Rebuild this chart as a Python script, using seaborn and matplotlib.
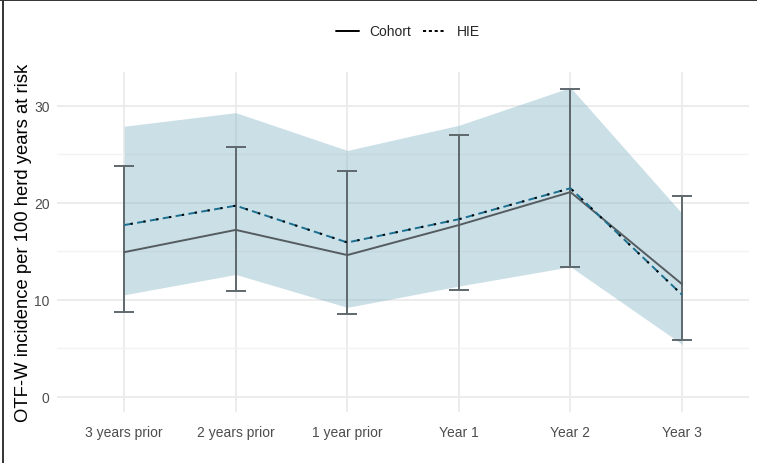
import pandas as pd
import matplotlib.pyplot as plt
import seaborn as sns
from matplotlib.lines import Line2D
from matplotlib.ticker import MultipleLocator

# values
periods = ["3 years prior", "2 years prior", "1 year prior", "Year 1", "Year 2", "Year 3"]
cohort_rate = [14.9, 17.2, 14.6, 17.7, 21.1, 11.6]
cohort_lower = [8.7, 10.9, 8.5, 11.0, 13.4, 5.8]
cohort_upper = [23.8, 25.8, 23.3, 27.0, 31.7, 20.7]
hie_rate = [17.7, 19.7, 15.9, 18.3, 21.5, 10.5]
hie_lower = [10.5, 12.6, 9.2, 11.4, 13.4, 5.4]
hie_upper = [27.9, 29.3, 25.4, 28.0, 31.9, 18.9]

df = pd.DataFrame({
    "period": periods,
    "cohort": cohort_rate,
    "cohort_lo": cohort_lower,
    "cohort_hi": cohort_upper,
    "hie": hie_rate,
    "hie_lo": hie_lower,
    "hie_hi": hie_upper,
})

sns.set_style("white")
plt.rcParams["font.family"] = ["Liberation Sans", "DejaVu Sans"]

fig = plt.figure(figsize=(7.57, 4.64), dpi=100)
ax = fig.add_axes([0.0757, 0.1099, 0.9137, 0.7328])

# lines first so the categorical axis keeps the given order
sns.lineplot(data=df, x="period", y="cohort", sort=False, ax=ax,
             color="#545c60", linewidth=1.4, zorder=4)
sns.lineplot(data=df, x="period", y="hie", sort=False, ax=ax,
             color="#1b6f8f", linewidth=1.4, zorder=5,
             linestyle=(0, (4.5, 2.2)))
sns.lineplot(data=df, x="period", y="hie", sort=False, ax=ax,
             color="black", linewidth=1.4, zorder=6,
             linestyle=(3.4, (1.1, 5.6)))

# HIE confidence ribbon
ax.fill_between(df["period"], df["hie_lo"], df["hie_hi"],
                color="#7fb0c4", alpha=0.4, linewidth=0, zorder=2)

# cohort confidence interval error bars
ax.errorbar(df["period"], df["cohort"],
            yerr=[df["cohort"] - df["cohort_lo"], df["cohort_hi"] - df["cohort"]],
            fmt="none", ecolor="#5f686c", elinewidth=1.4,
            capsize=7.5, capthick=1.4, zorder=3)

ax.set_xlim(-0.6, 5.6)
ax.set_ylim(-1.6, 33.5)
ax.yaxis.set_major_locator(MultipleLocator(10))
ax.yaxis.set_minor_locator(MultipleLocator(5))

ax.grid(which="major", color="#ebebeb", linewidth=1.3, zorder=0)
ax.grid(which="minor", axis="y", color="#f3f3f3", linewidth=1.0, zorder=0)
ax.set_axisbelow(True)
for s in ax.spines.values():
    s.set_visible(False)

ax.tick_params(axis="both", which="both", length=0, labelsize=10, labelcolor="#4d4d4d")
ax.tick_params(axis="x", pad=9)
ax.tick_params(axis="y", pad=5.5)

ax.set_xlabel("")
ax.set_ylabel("OTF-W incidence per 100 herd years at risk", fontsize=13.3, color="black")
ax.yaxis.set_label_coords(-0.037, 0.5)

handles = [
    Line2D([], [], color="black", linewidth=1.4, label="Cohort"),
    Line2D([], [], color="black", linewidth=1.4, linestyle=(0, (1.6, 1.4)), label="HIE"),
]
fig.legend(handles=handles, loc="center", bbox_to_anchor=(0.539, 0.93), ncol=2,
           frameon=False, fontsize=10, handlelength=1.65, handletextpad=0.8,
           columnspacing=0.85)

# thin frame on the left and top edges as in the reference image
fig.add_artist(Line2D([0.0045, 0.0045], [0, 1], transform=fig.transFigure,
                      color="#333333", linewidth=1.4))
fig.add_artist(Line2D([0, 1], [0.998, 0.998], transform=fig.transFigure,
                      color="#333333", linewidth=1.4))

fig.savefig("out.png", dpi=100)
